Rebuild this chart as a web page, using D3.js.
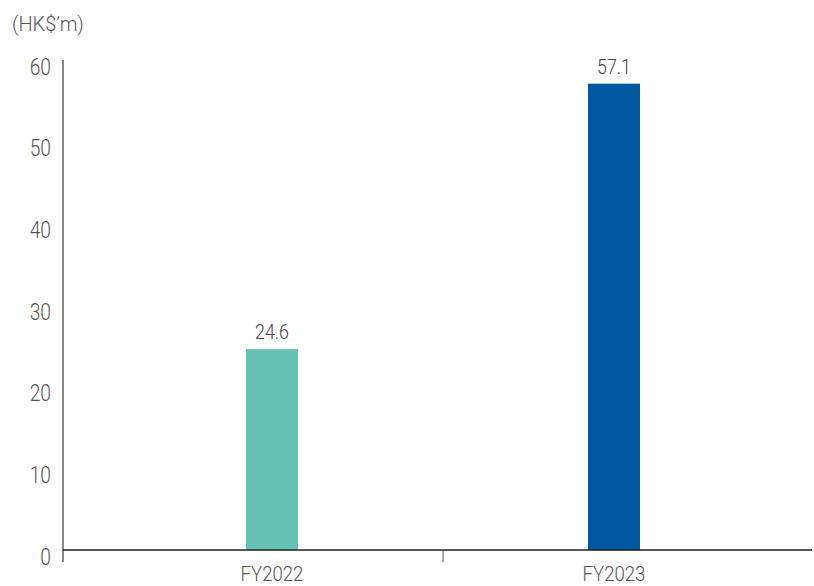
<!DOCTYPE html>
<html><head><meta charset="utf-8">
<script src="https://cdn.jsdelivr.net/npm/d3@7"></script>
<style>body{margin:0;background:#fff}text{font-family:Roboto,"DejaVu Sans",sans-serif;font-weight:300}</style>
</head><body>
<svg id="c" width="814" height="586"></svg>
<script>
const categories = ["FY2022", "FY2023"];
const values = [24.6, 57.1];
const colors = ["#66C2B5", "#0058A0"];
const yTicks = [0, 10, 20, 30, 40, 50, 60];
const unitLabel = "(HK$\u2019m)";

const svg = d3.select("#c");
const y = d3.scaleLinear().domain([0, 60]).range([550, 60]);
const x = d3.scaleBand().domain(categories).range([101, 785]);
const barW = 52;

// y axis line
svg.append("line").attr("x1", 63).attr("x2", 63).attr("y1", y(60)).attr("y2", 562)
  .attr("stroke", "#3a3536").attr("stroke-width", 1.2);
// y tick labels (condensed look)
svg.selectAll(".yl").data(yTicks).enter().append("text")
  .attr("transform", d => `translate(51,${y(d) + 14.5}) scale(0.8,1)`)
  .attr("text-anchor", "end")
  .attr("font-size", 24).attr("fill", "#555").text(d => d);

// bars
svg.selectAll(".bar").data(values).enter().append("rect")
  .attr("x", (d, i) => x(categories[i]) + x.bandwidth() / 2 - barW / 2)
  .attr("width", barW)
  .attr("y", d => y(d)).attr("height", d => y(0) - y(d))
  .attr("fill", (d, i) => colors[i]);

// value labels
svg.selectAll(".vl").data(values).enter().append("text")
  .attr("transform", (d, i) => `translate(${x(categories[i]) + x.bandwidth() / 2},${y(d) - 10}) scale(0.85,1)`)
  .attr("text-anchor", "middle")
  .attr("font-size", 21).attr("fill", "#444").text(d => d.toFixed(1));

// x axis
svg.append("line").attr("x1", 63).attr("x2", 812).attr("y1", y(0)).attr("y2", y(0))
  .attr("stroke", "#231f20").attr("stroke-width", 1.5);
// separator tick
svg.append("line").attr("x1", x(categories[1])).attr("x2", x(categories[1]))
  .attr("y1", y(0)).attr("y2", 562).attr("stroke", "#555").attr("stroke-width", 1);
// category labels
svg.selectAll(".cl").data(categories).enter().append("text")
  .attr("transform", d => `translate(${x(d) + x.bandwidth() / 2},581) scale(0.93,1)`)
  .attr("text-anchor", "middle")
  .attr("font-size", 20).attr("fill", "#555").text(d => d);

svg.append("text").attr("x", 12).attr("y", 31).attr("font-size", 20).attr("fill", "#555").text(unitLabel);
</script>
</body></html>
